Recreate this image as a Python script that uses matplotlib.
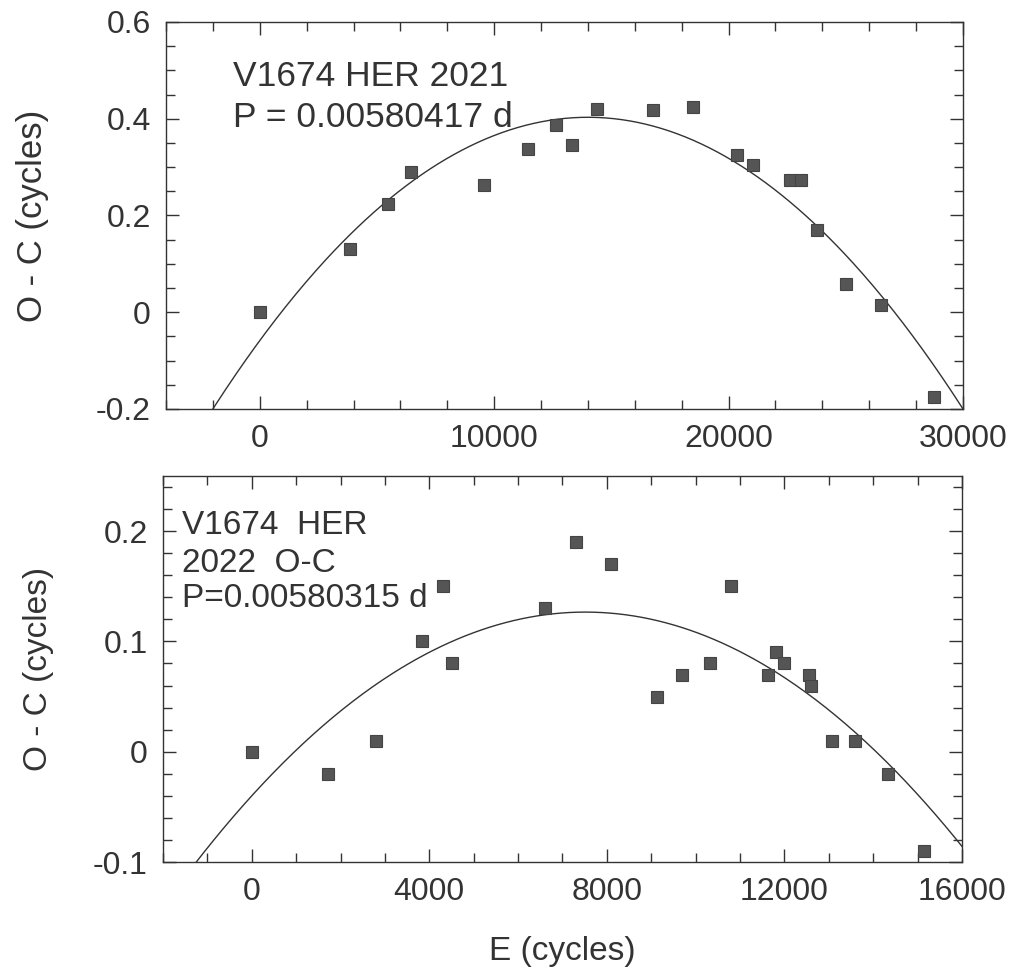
import numpy as np
import matplotlib
matplotlib.use('Agg')
import matplotlib.pyplot as plt
from matplotlib.ticker import MultipleLocator

plt.rcParams['font.family'] = ['Liberation Sans', 'DejaVu Sans']

# 2021 season O-C
E_2021 = [0, 3840, 5460, 6470, 9550, 11430, 12640, 13330, 14400, 16770,
          18470, 20380, 21050, 22600, 23110, 23760, 25010, 26520, 28770]
oc_2021 = [0.0, 0.130, 0.223, 0.289, 0.263, 0.337, 0.387, 0.346, 0.421, 0.418,
           0.425, 0.325, 0.304, 0.274, 0.274, 0.171, 0.059, 0.014, -0.176]
# quadratic fit  y = k + a*(E - h)^2
fit_2021 = dict(a=-2.355e-9, h=14000, k=0.403)

# 2022 season O-C
E_2022 = [0, 1720, 2810, 3830, 4300, 4520, 6600, 7300, 8090, 9120, 9690,
          10330, 10790, 11630, 11810, 11980, 12550, 12600, 13070, 13580, 14330, 15150]
oc_2022 = [0.0, -0.02, 0.01, 0.10, 0.15, 0.08, 0.13, 0.19, 0.17, 0.05, 0.07,
           0.08, 0.15, 0.07, 0.09, 0.08, 0.07, 0.06, 0.01, 0.01, -0.02, -0.09]
fit_2022 = dict(a=-2.95e-9, h=7515, k=0.1266)

ink = '#333333'
box = '#555555'

fig = plt.figure(figsize=(10.16, 9.77), dpi=100)
ax1 = fig.add_axes([0.1634, 0.5814, 0.7844, 0.3961])
ax2 = fig.add_axes([0.1604, 0.1177, 0.7864, 0.3951])


def style(ax, xmaj, xmin, ymaj, ymin):
    ax.xaxis.set_major_locator(MultipleLocator(xmaj))
    ax.xaxis.set_minor_locator(MultipleLocator(xmin))
    ax.yaxis.set_major_locator(MultipleLocator(ymaj))
    ax.yaxis.set_minor_locator(MultipleLocator(ymin))
    ax.tick_params(which='both', direction='in', top=True, right=True,
                   color=ink, width=1.0)
    ax.tick_params(which='major', length=9.5, labelsize=23, labelcolor=ink, pad=11)
    ax.tick_params(which='minor', length=6.5)
    for s in ax.spines.values():
        s.set_color(ink)
        s.set_linewidth(1.0)


def fitline(ax, p, x0, x1):
    xx = np.linspace(x0, x1, 400)
    ax.plot(xx, p['k'] + p['a'] * (xx - p['h']) ** 2, color=ink, lw=1.0)


# top panel
fitline(ax1, fit_2021, -4000, 30000)
ax1.plot(E_2021, oc_2021, 's', ms=8.6, mfc=box, mec='#444444', mew=0.8)
ax1.set_xlim(-4000, 30000)
ax1.set_ylim(-0.2, 0.6)
style(ax1, 10000, 2000, 0.2, 0.05)
ax1.set_yticks([-0.2, 0, 0.2, 0.4, 0.6])
ax1.set_yticklabels(['-0.2', '0', '0.2', '0.4', '0.6'])
ax1.set_ylabel('O - C (cycles)', fontsize=25, color=ink, labelpad=34)
ax1.text(0.084, 0.835, 'V1674 HER 2021', transform=ax1.transAxes,
         fontsize=25.5, color=ink, va='baseline')
ax1.text(0.084, 0.729, 'P = 0.00580417 d', transform=ax1.transAxes,
         fontsize=25.5, color=ink, va='baseline')

# bottom panel
fitline(ax2, fit_2022, -2000, 16000)
ax2.plot(E_2022, oc_2022, 's', ms=8.9, mfc=box, mec='#444444', mew=0.8)
ax2.set_xlim(-2000, 16000)
ax2.set_ylim(-0.1, 0.25)
style(ax2, 4000, 1000, 0.1, 0.02)
ax2.set_yticks([-0.1, 0, 0.1, 0.2])
ax2.set_yticklabels(['-0.1', '0', '0.1', '0.2'])
ax2.set_ylabel('O - C (cycles)', fontsize=24, color=ink, labelpad=28)
ax2.set_xlabel('E (cycles)', fontsize=24, color=ink, labelpad=21)
for txt, yy in zip(['V1674  HER', '2022  O-C', 'P=0.00580315 d'], [0.850, 0.751, 0.661]):
    ax2.text(0.024, yy, txt, transform=ax2.transAxes, fontsize=24, color=ink,
             va='baseline')

fig.savefig('out.png', dpi=100, facecolor='white')
